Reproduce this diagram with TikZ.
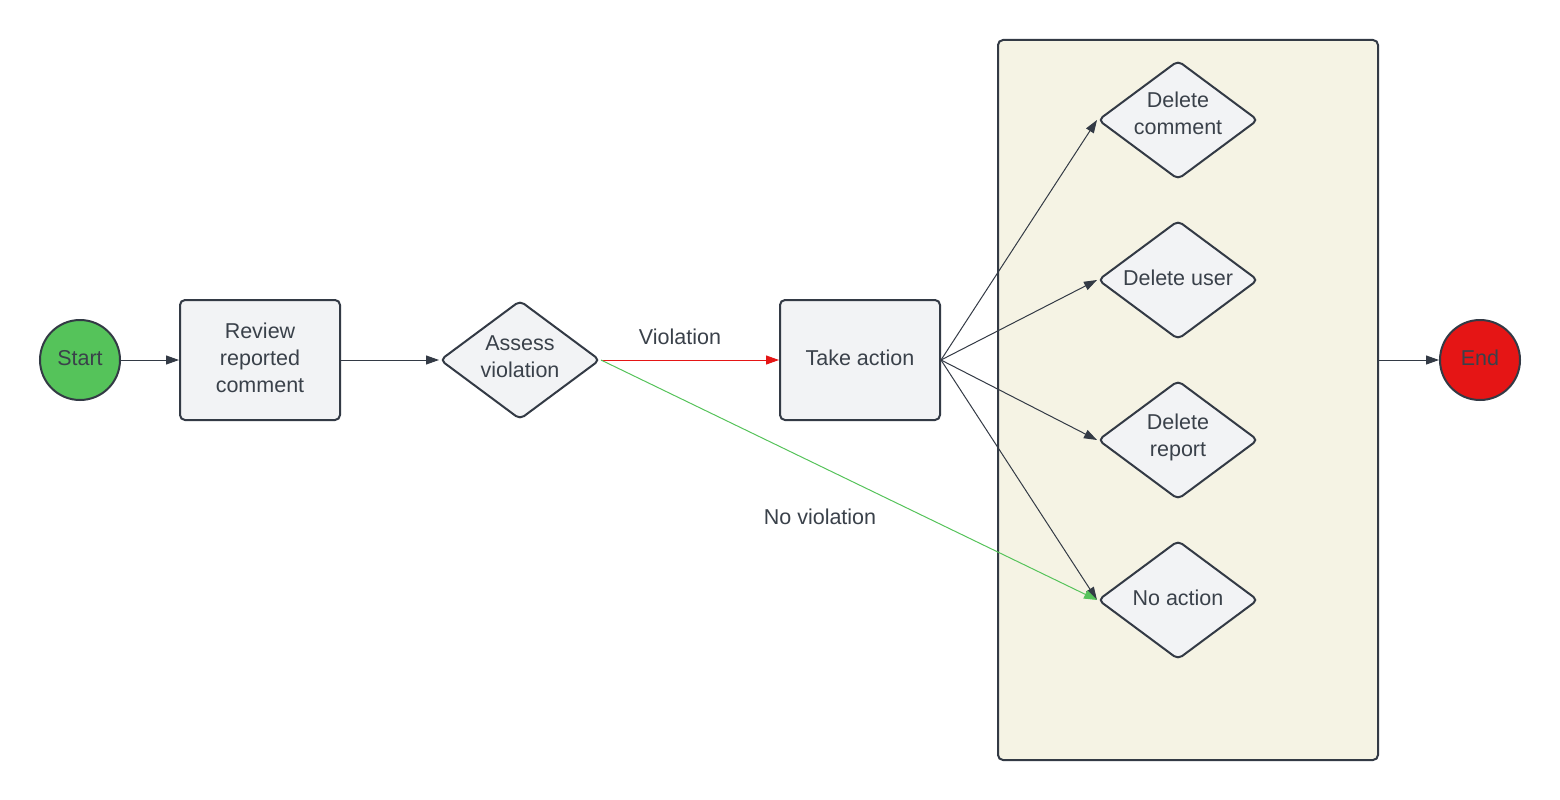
\documentclass[tikz,border=0pt]{standalone}
\usepackage{fontspec}
\setmainfont{Liberation Sans}
\usetikzlibrary{shapes.geometric,arrows.meta}
\definecolor{strk}{HTML}{333A45}
\definecolor{boxfill}{HTML}{F2F3F5}
\definecolor{txt}{HTML}{3A414A}
\definecolor{grn}{HTML}{55C35A}
\definecolor{rd}{HTML}{E51515}
\definecolor{cont}{HTML}{F5F3E4}
\tikzset{
  every node/.style={font=\fontsize{21.5}{27}\selectfont, text=txt, align=center},
  procbox/.style={draw=strk, line width=2pt, fill=boxfill, rounded corners=5pt, minimum width=160pt, minimum height=120pt, inner sep=0pt},
  decide/.style={draw=strk, line width=2pt, fill=boxfill, diamond, aspect=1.345, minimum width=160pt, minimum height=119pt, inner sep=0pt, rounded corners=5pt},
  term/.style={draw=strk, line width=2pt, circle, minimum size=80pt, inner sep=0pt},
  conn/.style={draw=strk, line width=1pt, -{Triangle[length=13pt,width=9pt]}},
  lbl/.style={fill=none}
}
\begin{document}
\begin{tikzpicture}[x=1pt,y=-1pt]
\useasboundingbox (0,0) rectangle (1560,800);
\fill[white] (0,0) rectangle (1560,800);
\node[draw=strk, line width=2pt, fill=cont, rounded corners=5pt, minimum width=380pt, minimum height=720pt, inner sep=0pt] (group) at (1188,400) {};
\node[term, fill=grn] (start) at (80,360) {};
\node (startt) at (80,358) {Start};
\node[procbox] (review) at (260,360) {};
\node (reviewt) at (260,358) {Review\\reported\\comment};
\node[decide] (assess) at (520,360) {};
\node (assesst) at (520,357) {Assess\\violation};
\node[procbox] (take) at (860,360) {};
\node (taket) at (860,358) {Take action};
\node[decide] (dcomment) at (1178,120) {};
\node (dcommentt) at (1178,113) {Delete\\comment};
\node[decide] (duser) at (1178,280) {};
\node (dusert) at (1178,278) {Delete user};
\node[decide] (dreport) at (1178,440) {};
\node (dreportt) at (1178,437) {Delete\\report};
\node[decide] (noact) at (1178,600) {};
\node (noactt) at (1178,598) {No action};
\node[term, fill=rd] (end) at (1480,360) {};
\node (endt) at (1480,358) {End};
\coordinate (gexit) at (group.east |- end.west);
\draw[conn] (start) -- (review);
\draw[conn] (review) -- (assess);
\draw[conn, draw=rd, -{Triangle[length=13pt,width=9pt,fill=rd]}] (assess.east) -- (take.west);
\node[lbl] (vlab) at (680,337) {Violation};
\draw[conn] (take.east) -- (dcomment.west);
\draw[conn] (take.east) -- (duser.west);
\draw[conn] (take.east) -- (dreport.west);
\draw[conn] (take.east) -- (noact.west);
\draw[conn, draw=grn, -{Triangle[length=13pt,width=9pt,fill=grn]}] (assess.east) -- (noact.west);
\node[lbl] (nvlab) at (820,517) {No violation};
\draw[conn] (gexit) -- (end.west);
\end{tikzpicture}
\end{document}
